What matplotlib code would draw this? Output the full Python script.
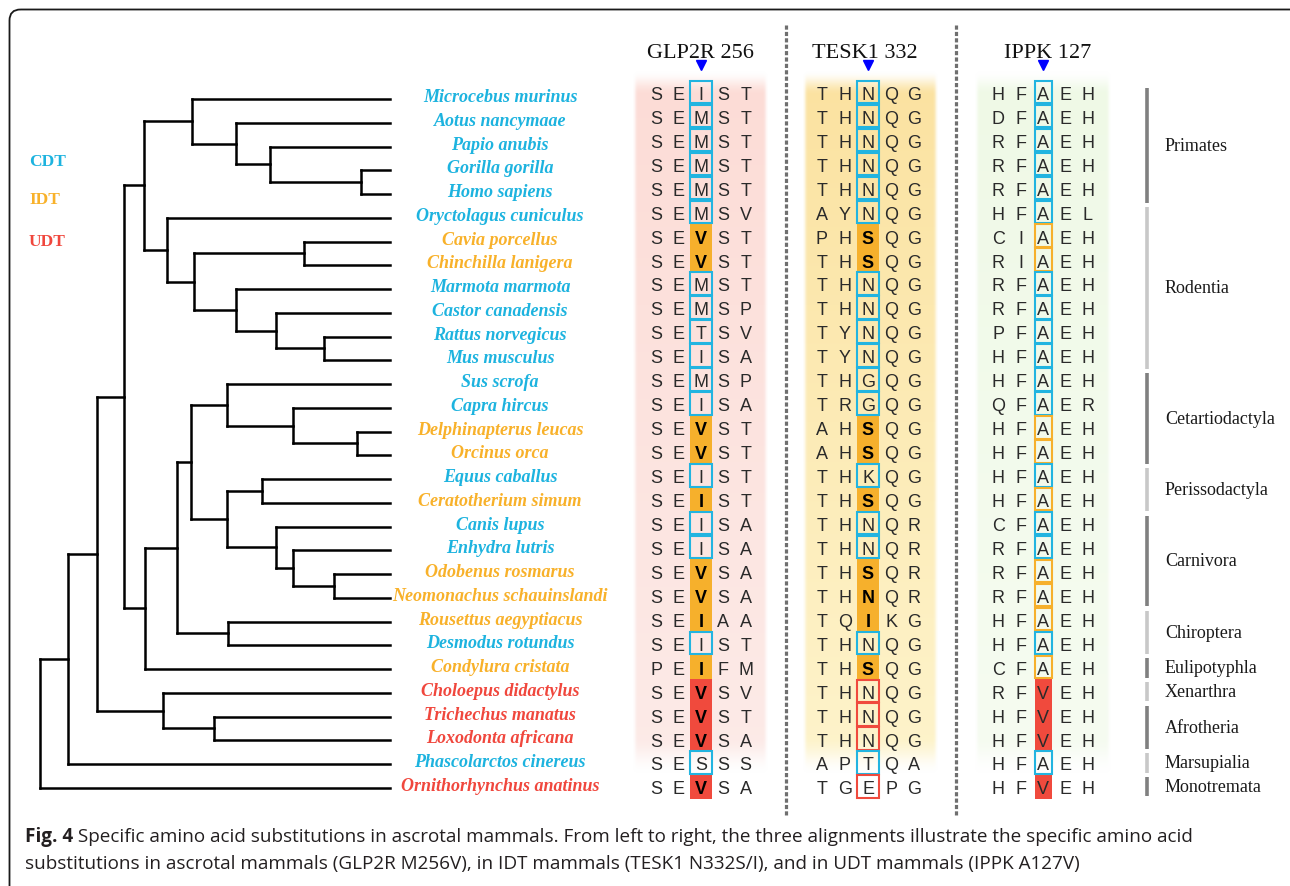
import numpy as np
import matplotlib
matplotlib.use("Agg")
import matplotlib.pyplot as plt
from matplotlib.patches import Rectangle, FancyBboxPatch
from matplotlib.collections import LineCollection
from matplotlib.colors import to_rgb

# ---------------- data ----------------
species = ["Microcebus murinus", "Aotus nancymaae", "Papio anubis", "Gorilla gorilla",
           "Homo sapiens", "Oryctolagus cuniculus", "Cavia porcellus", "Chinchilla lanigera",
           "Marmota marmota", "Castor canadensis", "Rattus norvegicus", "Mus musculus",
           "Sus scrofa", "Capra hircus", "Delphinapterus leucas", "Orcinus orca",
           "Equus caballus", "Ceratotherium simum", "Canis lupus", "Enhydra lutris",
           "Odobenus rosmarus", "Neomonachus schauinslandi", "Rousettus aegyptiacus",
           "Desmodus rotundus", "Condylura cristata", "Choloepus didactylus",
           "Trichechus manatus", "Loxodonta africana", "Phascolarctos cinereus",
           "Ornithorhynchus anatinus"]
status = ["CDT", "CDT", "CDT", "CDT", "CDT", "CDT", "IDT", "IDT", "CDT", "CDT", "CDT", "CDT",
          "CDT", "CDT", "IDT", "IDT", "CDT", "IDT", "CDT", "CDT", "IDT", "IDT", "IDT", "CDT",
          "IDT", "UDT", "UDT", "UDT", "CDT", "UDT"]

glp2r = ["SEIST", "SEMST", "SEMST", "SEMST", "SEMST", "SEMSV", "SEVST", "SEVST", "SEMST",
         "SEMSP", "SETSV", "SEISA", "SEMSP", "SEISA", "SEVST", "SEVST", "SEIST", "SEIST",
         "SEISA", "SEISA", "SEVSA", "SEVSA", "SEIAA", "SEIST", "PEIFM", "SEVSV", "SEVST",
         "SEVSA", "SESSS", "SEVSA"]
tesk1 = ["THNQG", "THNQG", "THNQG", "THNQG", "THNQG", "AYNQG", "PHSQG", "THSQG", "THNQG",
         "THNQG", "TYNQG", "TYNQG", "THGQG", "TRGQG", "AHSQG", "AHSQG", "THKQG", "THSQG",
         "THNQR", "THNQR", "THSQR", "THNQR", "TQIKG", "THNQG", "THSQG", "THNQG", "THNQG",
         "THNQG", "APTQA", "TGEPG"]
ippk = ["HFAEH", "DFAEH", "RFAEH", "RFAEH", "RFAEH", "HFAEL", "CIAEH", "RIAEH", "RFAEH",
        "RFAEH", "PFAEH", "HFAEH", "HFAEH", "QFAER", "HFAEH", "HFAEH", "HFAEH", "HFAEH",
        "CFAEH", "RFAEH", "RFAEH", "RFAEH", "HFAEH", "HFAEH", "CFAEH", "RFVEH", "HFVEH",
        "HFVEH", "HFAEH", "HFVEH"]
alignment_titles = ["GLP2R 256", "TESK1 332", "IPPK 127"]

orders = ["Primates", "Rodentia", "Cetartiodactyla", "Perissodactyla", "Carnivora",
          "Chiroptera", "Eulipotyphla", "Xenarthra", "Afrotheria", "Marsupialia", "Monotremata"]
order_first = [0, 5, 12, 16, 18, 22, 24, 25, 26, 28, 29]
order_last = [4, 11, 15, 17, 21, 23, 24, 25, 27, 28, 29]

legend_labels = ["CDT", "IDT", "UDT"]

caption_bold = "Fig. 4"
caption_rest = (" Specific amino acid substitutions in ascrotal mammals. From left to right, "
                "the three alignments illustrate the specific amino acid")
caption_line2 = ("substitutions in ascrotal mammals (GLP2R M256V), in IDT mammals "
                 "(TESK1 N332S/I), and in UDT mammals (IPPK A127V)")

# tree: (node depth, [children]); leaves are row indices
def N(depth, *children):
    return (depth, list(children))

primates = N(191.7, 0, N(236, 1, N(270, 2, N(360.7, 3, 4))))
glires = N(166.7, 5, N(194.3, N(304.3, 6, 7), N(236, 8, N(276, 9, N(324.3, 10, 11)))))
cetart = N(226.7, 12, N(292.7, 13, N(356.7, 14, 15)))
periss = N(262.3, 16, 17)
carniv = N(276, 18, N(292.7, 19, N(334, 20, 21)))
chiro = N(227.7, 22, 23)
laur = N(145, N(176.7, N(190.7, cetart, N(226.7, periss, carniv)), chiro), 24)
atlanto = N(163.3, 25, N(214, 26, 27))
tree = N(40, N(67.7, N(96.7, N(124, N(144, primates, glires), laur), atlanto), 28), 29)
tip_depth = 390

# ---------------- style ----------------
CYAN = "#22b4e0"
ORANGE = "#f6b02c"
RED = "#f04a3d"
status_color = {"CDT": "#1db3df", "IDT": "#f8b12a", "UDT": "#f0473d"}

W, H = 1290, 887
fig = plt.figure(figsize=(W / 100, H / 100), dpi=100)
fig.patch.set_facecolor("white")

# frame axes (pixel coordinates)
axf = fig.add_axes([0, 0, 1, 1])
axf.set_xlim(0, W); axf.set_ylim(H, 0); axf.axis("off")
# tree / label axes (y = row index)
ax = fig.add_axes([0, 0, 1, 1])
ROW0, DROW = 100.0, 23.75
ax.set_xlim(0, W); ax.set_ylim((H - ROW0) / DROW, -ROW0 / DROW); ax.axis("off")
ax.patch.set_alpha(0)
# alignment axes (y = row index, slightly different spacing)
axa = fig.add_axes([0, 0, 1, 1])
AROW0, ADROW = 93.05, 23.95
axa.set_xlim(0, W); axa.set_ylim((H - AROW0) / ADROW, -AROW0 / ADROW); axa.axis("off")
axa.patch.set_alpha(0)

# border
axf.add_patch(FancyBboxPatch((9.5, 10.5), 1296, 920, boxstyle="round,pad=0,rounding_size=11",
                             fc="none", ec="#1a1a1a", lw=1.3, zorder=1))

# ---------------- tree ----------------
segs = []
def build(node):
    if isinstance(node, int):
        return tip_depth, node
    depth, ch = node
    pts = [build(c) for c in ch]
    ys = [p[1] for p in pts]
    for cx, cy in pts:
        segs.append([(depth, cy), (cx, cy)])
    segs.append([(depth, min(ys)), (depth, max(ys))])
    return depth, (min(ys) + max(ys)) / 2

build(tree)
ax.add_collection(LineCollection(segs, colors="black", linewidths=1.8, capstyle="projecting",
                                 zorder=3))

# species labels
for i, (sp, st) in enumerate(zip(species, status)):
    ax.text(500, i - 0.1, sp, ha="center", va="center", family="Liberation Serif",
            style="italic", weight="bold", fontsize=13, color=status_color[st], zorder=4)

# legend
for k, lab in enumerate(legend_labels):
    ax.text(29, [2.80, 4.37, 6.14][k], lab, ha="left", va="baseline", family="Liberation Serif",
            weight="bold", fontsize=12.5, color=status_color[lab])

# ---------------- alignments ----------------
def band(xl, xr, top, bot, c_top, c_bot, ft, fb):
    ny, nx = 400, 80
    r = np.linspace(top, bot, ny)[:, None]
    xs = np.linspace(xl, xr, nx)[None, :]
    t = (r - top) / (bot - top)
    ct, cb = np.array(to_rgb(c_top)), np.array(to_rgb(c_bot))
    rgb = ct[None, None, :] * (1 - t[..., None]) + cb[None, None, :] * t[..., None]
    rgb = np.broadcast_to(rgb, (ny, nx, 3))
    def sm(v):
        v = np.clip(v, 0, 1)
        return v * v * (3 - 2 * v)
    a = sm((r - top) / ft) * sm((bot - r) / fb) * sm(np.minimum(xs - xl, xr - xs) / 5.0)
    img = np.dstack([rgb, a])
    axa.imshow(img, extent=(xl, xr, bot, top), origin="upper", aspect="auto",
               interpolation="bilinear", zorder=0)

band(632, 769, -0.9, 28.5, "#fcdcd6", "#fdebe8", 1.0, 1.6)
band(802, 939, -0.9, 28.5, "#fbe2a0", "#fef4cc", 1.0, 1.6)
band(974, 1112, -0.9, 28.5, "#eff9e6", "#f6fcf1", 1.0, 1.6)

alignments = [glp2r, tesk1, ippk]
centers = [701, 868, 1043]
steps = [22.3, 23.1, 22.3]
box_w = [21.7, 22.7, 17.0]
title_x = [700, 865, 1048]
styles = [
    {"CDT": ("box", CYAN), "IDT": ("fill", ORANGE), "UDT": ("fill", RED)},
    {"CDT": ("box", CYAN), "IDT": ("fill", ORANGE), "UDT": ("box", RED)},
    {"CDT": ("box", CYAN), "IDT": ("box", ORANGE), "UDT": ("plainfill", RED)},
]

for a_i, seqs in enumerate(alignments):
    xc, st, bw = centers[a_i], steps[a_i], box_w[a_i]
    axa.text(title_x[a_i], -1.46, alignment_titles[a_i], ha="center", va="baseline",
             family="Liberation Serif", fontsize=16, color="#111111")
    axa.plot([xc], [-1.13], marker="v", ms=7.5, color="#0000ff", mec="#0000ff", zorder=5)
    for r, seq in enumerate(seqs):
        kind, col = styles[a_i][status[r]]
        if kind == "box":
            axa.add_patch(Rectangle((xc - bw / 2, r - 0.47), bw, 0.94, fc="none", ec=col,
                                    lw=1.5, zorder=3))
        else:
            axa.add_patch(Rectangle((xc - bw / 2, r - 0.5), bw, 1.0, fc=col, ec="none",
                                    zorder=2))
        for c, ch in enumerate(seq):
            bold = (c == 2 and kind == "fill")
            axa.text(xc + (c - 2) * st, r + 0.285, ch, ha="center", va="baseline",
                     family="Liberation Sans", fontsize=13,
                     weight="bold" if bold else "normal",
                     color="black" if bold else "#2a2a2a", zorder=4)

# dashed separators
for xd in [786, 956]:
    axf.plot([xd, xd], [26, 816], color="#6f6f6f", lw=2.3, ls=(0, (1.3, 0.7)),
             dash_capstyle="butt", zorder=1)

# ---------------- orders ----------------
for k, name in enumerate(orders):
    shade = "#808080" if k % 2 == 0 else "#c8c8c8"
    ax.plot([1147, 1147], [order_first[k] - 0.46, order_last[k] + 0.36], color=shade,
            lw=2.6, solid_capstyle="butt", zorder=3)
    ax.text(1165, (order_first[k] + order_last[k]) / 2 - 0.05, name, ha="left", va="center",
            family="Liberation Serif", fontsize=13, color="#1a1a1a")

# ---------------- caption ----------------
CAP_FAMILY = "Open Sans"
CAP_FS = 13.6
CAP_COL = "#231f20"
X_LEFT = 25
Y1, Y2 = 842, 869
renderer = fig.canvas.get_renderer()
tb = fig.text(X_LEFT / W, 1 - Y1 / H, caption_bold, ha="left", va="baseline",
              family=CAP_FAMILY, weight="bold", fontsize=CAP_FS, color=CAP_COL)
fig.text((X_LEFT + tb.get_window_extent(renderer).width) / W, 1 - Y1 / H, caption_rest,
         ha="left", va="baseline", family=CAP_FAMILY, fontsize=CAP_FS, color=CAP_COL)
fig.text(X_LEFT / W, 1 - Y2 / H, caption_line2, ha="left", va="baseline",
         family=CAP_FAMILY, fontsize=CAP_FS, color=CAP_COL)

fig.savefig("out.png", dpi=100, facecolor="white")
